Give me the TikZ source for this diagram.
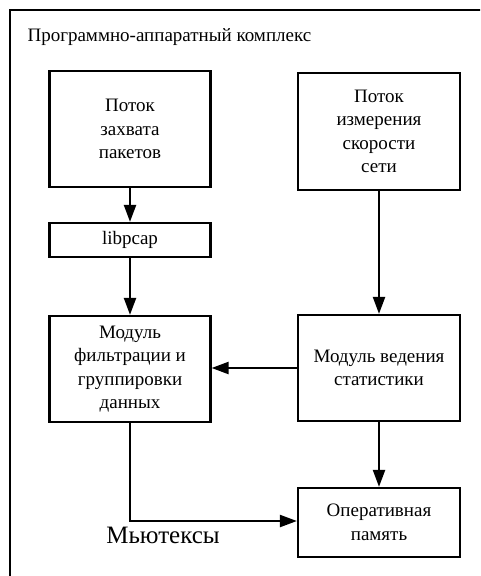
\documentclass[tikz,border=0pt]{standalone}
\usepackage{fontspec}
\setmainfont{Liberation Serif}
\usetikzlibrary{arrows.meta}
\begin{document}
\begin{tikzpicture}[x=1pt,y=-1pt,
  blk/.style={draw,line width=2.2pt,inner sep=0pt,align=center,
    font=\fontsize{19}{23.5}\selectfont},
  conn/.style={line width=2.2pt,-{Triangle[length=17pt,width=12pt]}}]
\useasboundingbox (0,0) rectangle (480,576);
\clip (0,0) rectangle (480,576);
\draw[line width=2.2pt] (10,10) rectangle (500,600);
\node[anchor=west,font=\fontsize{19}{23.5}\selectfont] (title) at (24,37) {Программно-аппаратный комплекс};
\node[blk,minimum width=161pt,minimum height=116pt] (cap) at (130,129) {Поток\\захвата\\пакетов};
\node[blk,minimum width=162pt,minimum height=117pt] (meas) at (379,131.5) {Поток\\измерения\\скорости\\сети};
\node[blk,minimum width=161pt,minimum height=34pt] (pcap) at (130,240) {libpcap};
\node[blk,minimum width=161pt,minimum height=106pt] (filt) at (130,369) {Модуль\\фильтрации и\\группировки\\данных};
\node[blk,minimum width=162pt,minimum height=106pt] (stat) at (379,368) {Модуль ведения\\статистики};
\node[blk,minimum width=162pt,minimum height=69pt] (ram) at (379,522.5) {Оперативная\\память};
\node[font=\fontsize{25}{30}\selectfont] (mtx) at (163,535) {Мьютексы};
\draw[conn] (cap) -- (pcap);
\draw[conn] (pcap) -- (filt);
\draw[conn] (meas) -- (stat);
\draw[conn] (stat.west) -- (filt.east |- stat.west);
\draw[conn] (stat) -- (ram);
\draw[conn] (filt.south) |- ([yshift=1.5pt]ram.west);
\end{tikzpicture}
\end{document}
